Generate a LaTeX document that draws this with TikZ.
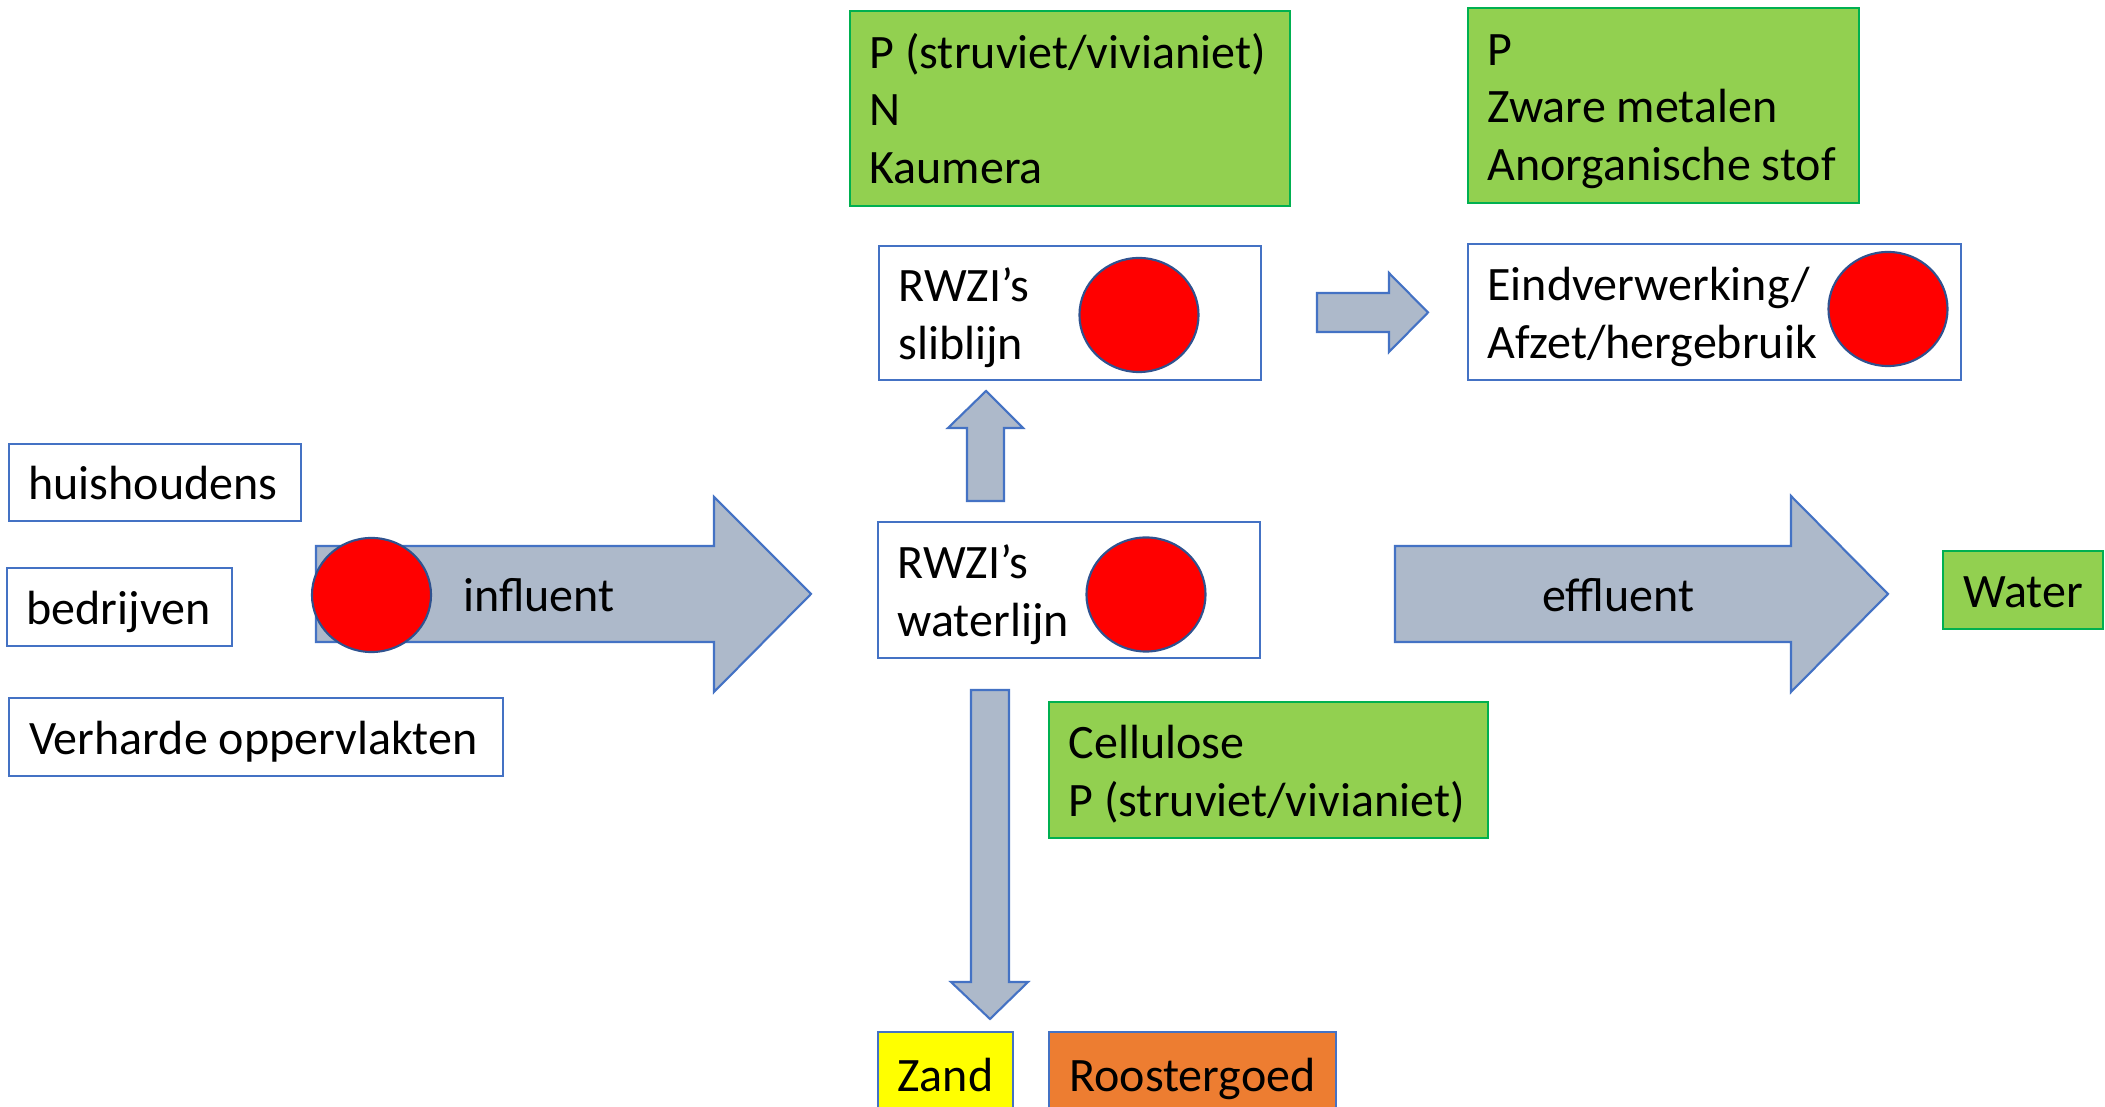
\documentclass[tikz,border=0pt]{standalone}
\usepackage{fontspec}
\setmainfont{Carlito}
\usetikzlibrary{shapes.geometric}
\definecolor{boxblue}{HTML}{4472C4}
\definecolor{greenfill}{HTML}{92D050}
\definecolor{greenborder}{HTML}{00B050}
\definecolor{arrowfill}{HTML}{ADB9CA}
\definecolor{blobedge}{HTML}{2F528F}
\definecolor{zandyellow}{HTML}{FFFF00}
\definecolor{roosterorange}{HTML}{ED7D31}
\newcommand\mystrut{\rule[-3.3pt]{0pt}{16.4pt}}
\begin{document}
\begin{tikzpicture}[x=0.01cm,y=-0.01cm,
  txt/.style={font=\fontsize{13.65}{16.4}\selectfont, inner sep=0pt, align=left},
  frame/.style={draw=boxblue, line width=0.6pt, fill=white, inner sep=0pt},
  gframe/.style={draw=greenborder, line width=0.6pt, fill=greenfill, inner sep=0pt},
  cframe/.style={draw=boxblue, line width=0.6pt, inner sep=0pt, font=\fontsize{13.65}{16.4}\selectfont},
  blob/.style={ellipse, draw=blobedge, line width=0.6pt, fill=red, inner sep=0pt, minimum width=1.19cm, minimum height=1.14cm},
  blockarrow/.style={draw=boxblue, line width=0.6pt, fill=arrowfill, line join=miter}]
\useasboundingbox (0,0) rectangle (2105,1107);
\clip (0,0) rectangle (2105,1107);
\fill[white] (0,0) rectangle (2105,1107);

% sources
\node[frame, minimum width=2.92cm, minimum height=0.77cm] (hh) at (155,482.5) {};
\node[txt, anchor=west] (hhT) at ([xshift=0.2cm]hh.west) {\mystrut huishoudens};
\node[frame, minimum width=2.25cm, minimum height=0.78cm] (bd) at (119.5,607) {};
\node[txt, anchor=west] (bdT) at ([xshift=0.2cm]bd.west) {\mystrut bedrijven};
\node[frame, minimum width=4.93cm, minimum height=0.78cm] (vo) at (256,737) {};
\node[txt, anchor=west] (voT) at ([xshift=0.2cm]vo.west) {\mystrut Verharde oppervlakten};

% block arrows
\draw[blockarrow] (316,546) -- (714,546) -- (714,497) -- (811,594) -- (714,692) -- (714,642) -- (316,642) -- cycle;
\draw[blockarrow] (967,501) -- (967,428) -- (948,428) -- (986,391) -- (1023,428) -- (1004,428) -- (1004,501) -- cycle;
\draw[blockarrow] (1317,293) -- (1389,293) -- (1389,273) -- (1428,312.5) -- (1389,352) -- (1389,332) -- (1317,332) -- cycle;
\draw[blockarrow] (1395,546) -- (1791,546) -- (1791,496) -- (1888,594) -- (1791,692) -- (1791,642) -- (1395,642) -- cycle;
\draw[blockarrow] (971,690) -- (1009,690) -- (1009,982) -- (1028,982) -- (990,1019) -- (951,982) -- (971,982) -- cycle;

\node[blob] (infBlob) at (371.5,595) {};
\node[txt] (infT) at (539,594) {\mystrut influent};
\node[txt] (effT) at (1618.5,594) {\mystrut effluent};

% RWZI boxes
\node[frame, minimum width=3.82cm, minimum height=1.34cm] (slib) at (1070,313) {};
\node[txt, anchor=west] (slibT) at ([xshift=0.2cm]slib.west) {\mystrut RWZI’s\\\mystrut sliblijn};
\node[blob] (slibBlob) at (1139,315) {};

\node[frame, minimum width=3.82cm, minimum height=1.36cm] (wat) at (1069,590) {};
\node[txt, anchor=west] (watT) at ([xshift=0.2cm]wat.west) {\mystrut RWZI’s\\\mystrut waterlijn};
\node[blob] (watBlob) at (1146,594.5) {};

\node[frame, minimum width=4.93cm, minimum height=1.36cm] (eind) at (1714.5,312) {};
\node[txt, anchor=west] (eindT) at ([xshift=0.2cm]eind.west) {\mystrut Eindverwerking/\\\mystrut Afzet/hergebruik};
\node[blob] (eindBlob) at (1888,309) {};

% green boxes
\node[gframe, minimum width=4.40cm, minimum height=1.95cm] (gm) at (1070,108.5) {};
\node[txt, anchor=west] (gmT) at ([xshift=0.2cm]gm.west) {\mystrut P (struviet/vivianiet)\\\mystrut N\\\mystrut Kaumera};
\node[gframe, minimum width=3.91cm, minimum height=1.95cm] (gr) at (1663.5,105.5) {};
\node[txt, anchor=west] (grT) at ([xshift=0.2cm]gr.west) {\mystrut P\\\mystrut Zware metalen\\\mystrut Anorganische stof};
\node[gframe, minimum width=4.39cm, minimum height=1.36cm] (cel) at (1268.5,770) {};
\node[txt, anchor=west] (celT) at ([xshift=0.2cm]cel.west) {\mystrut Cellulose\\\mystrut P (struviet/vivianiet)};
\node[gframe, font=\fontsize{13.65}{16.4}\selectfont, minimum width=1.60cm, minimum height=0.78cm] (water) at (2023,590) {\mystrut Water};

% bottom boxes
\node[cframe, fill=zandyellow, minimum width=1.35cm, minimum height=0.84cm] (zand) at (945.5,1074) {\mystrut Zand};
\node[cframe, fill=roosterorange, minimum width=2.87cm, minimum height=0.84cm] (rooster) at (1192.5,1074) {\mystrut Roostergoed};
\end{tikzpicture}
\end{document}
